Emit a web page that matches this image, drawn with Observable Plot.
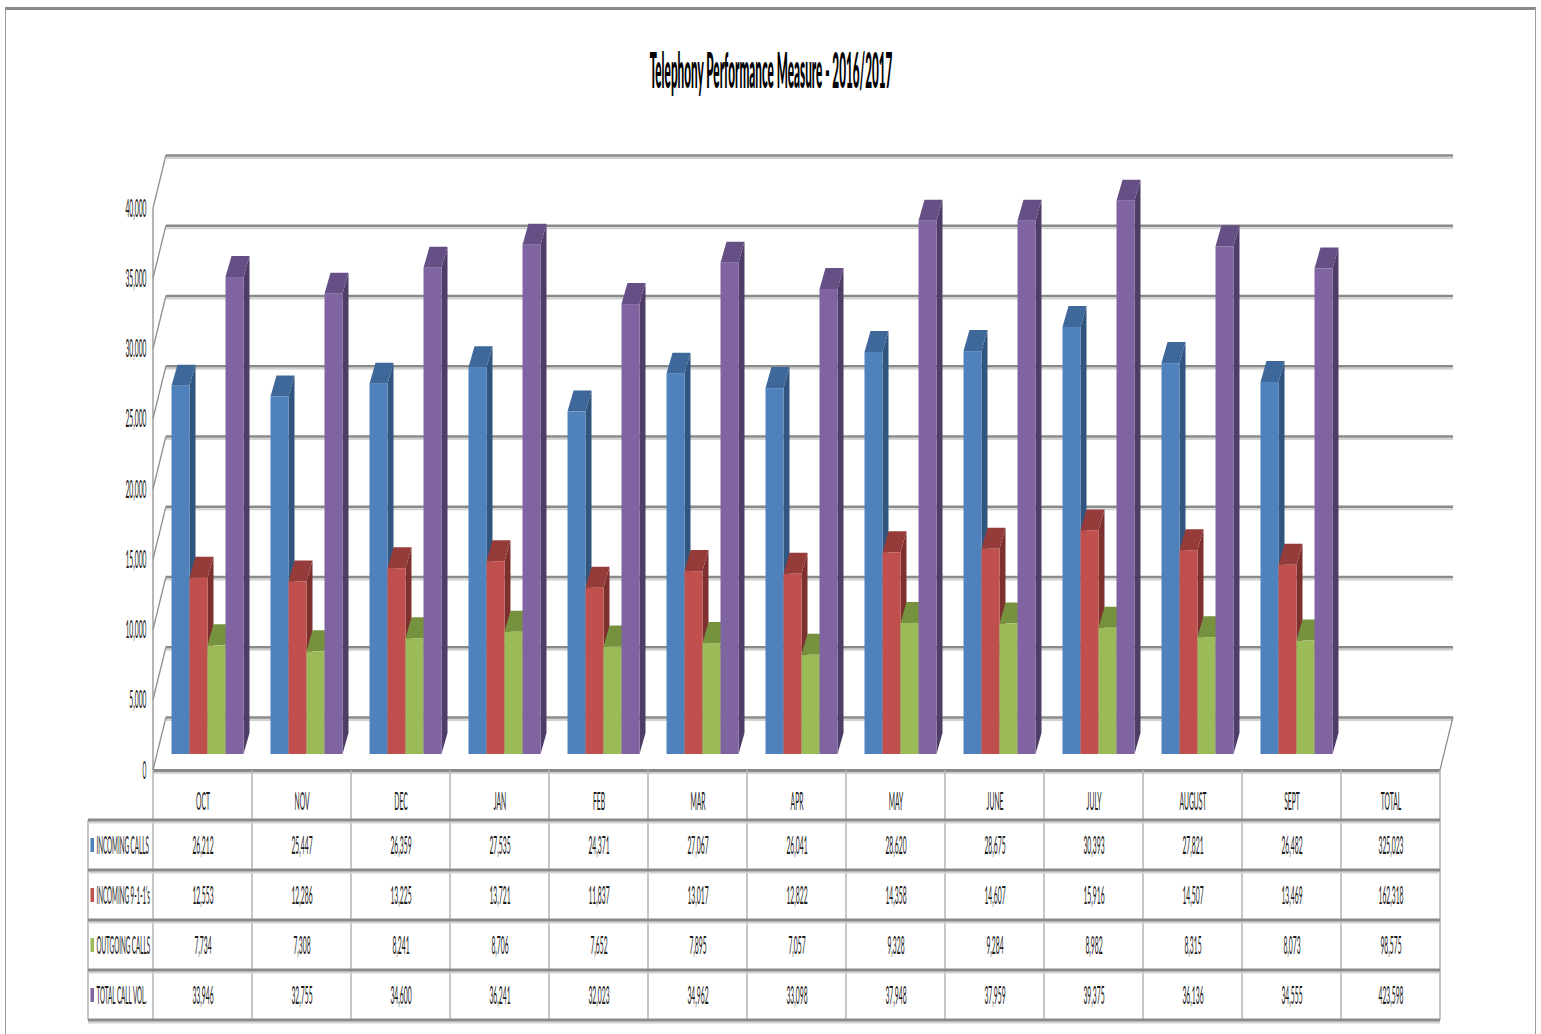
<!DOCTYPE html>
<html>
<head>
<meta charset="utf-8">
<title>Telephony Performance Measure - 2016/2017</title>
<script src="https://cdn.jsdelivr.net/npm/d3@7"></script>
<script src="https://cdn.jsdelivr.net/npm/@observablehq/plot@0.6"></script>
<style>
  html, body { margin: 0; padding: 0; background: #fff; }
  #wrap { position: relative; width: 1541px; height: 1034px; overflow: hidden; background: #fff; }
  #wrap svg { position: absolute; left: 0; top: 0; }
  #border {
    position: absolute; left: 5px; top: 7px; width: 1531px; height: 1100px; box-sizing: border-box;
    border-top: 3px solid #8a8a8a; border-left: 1px solid #9c9c9c; border-right: 1px solid #9c9c9c;
    pointer-events: none;
  }
</style>
</head>
<body>
<div id="wrap"><div id="border"></div></div>
<script>
// Monthly call volumes, October 2016 to September 2017, with the yearly totals
const months = ["OCT", "NOV", "DEC", "JAN", "FEB", "MAR", "APR", "MAY", "JUNE", "JULY", "AUGUST", "SEPT", "TOTAL"];
const incomingCalls = [26212, 25447, 26359, 27535, 24371, 27067, 26041, 28620, 28675, 30393, 27821, 26482, 325023];
const incoming911   = [12553, 12286, 13225, 13721, 11837, 13017, 12822, 14358, 14607, 15916, 14507, 13469, 162318];
const outgoingCalls = [7734, 7308, 8241, 8706, 7652, 7895, 7057, 9328, 9284, 8982, 8315, 8073, 98575];
const totalCallVol  = [33946, 32755, 34600, 36241, 32023, 34962, 33098, 37948, 37959, 39375, 36136, 34555, 423598];

const seriesNames  = ["INCOMING CALLS", "INCOMING 9-1-1's", "OUTGOING CALLS", "TOTAL CALL VOL."];
const seriesColors = ["#4f81bd", "#c0504d", "#9bbb59", "#8064a2"];
const seriesTops   = ["#3d6899", "#953c3a", "#77923f", "#654f85"];
const seriesSides  = ["#30557f", "#7d302e", "#657d35", "#4e3d68"];

const yTicks = [0, 5000, 10000, 15000, 20000, 25000, 30000, 35000, 40000];
const title = "Telephony Performance Measure - 2016/2017";

const seriesValues = [incomingCalls, incoming911, outgoingCalls, totalCallVol];

// One row per month and series; the TOTAL column is shown in the table only
const rows = months.flatMap((month, i) => seriesValues.map((values, s) => ({month, s, value: values[i]})));
const barRows = rows.filter(d => d.month !== "TOTAL");

// Layout
const W = 1541, H = 1034;
const mL = 153, mR = 101, mT = 208, mB = 264;
const bw = (W - mL - mR) / months.length;
const barW = 18;
const groupInset = (bw - barW * seriesNames.length) / 2;
const plane = {dx: 5, dy: -16};   // front face of the columns, behind the floor edge
const depth = {dx: 6, dy: -21};   // depth of each column
const wall = {dx: 13, dy: -53};   // back wall, full depth of the floor
const rowH = 50;
const labelColW = 65;
const gridDark = "#8a8a8a", gridLight = "#d2d2d2", cellLine = "#b3b3b3", wallLine = "#8f8f8f";
const fmt = d3.format(",");

// Side and top faces of each column, painted left to right
function columnFaces(index, {x, y}) {
  const g = d3.create("svg:g");
  for (const d of barRows) {
    const xl = x(d.month) + groupInset + d.s * barW + plane.dx;
    const xr = xl + barW;
    const yb = y(0) + plane.dy;
    const yt = y(d.value) + plane.dy;
    g.append("path")
      .attr("d", `M${xr},${yb}L${xr + depth.dx},${yb + depth.dy}L${xr + depth.dx},${yt + depth.dy}L${xr},${yt}Z`)
      .attr("fill", seriesSides[d.s]);
    g.append("path")
      .attr("d", `M${xl},${yt}L${xr},${yt}L${xr + depth.dx},${yt + depth.dy}L${xl + depth.dx},${yt + depth.dy}Z`)
      .attr("fill", seriesTops[d.s]);
  }
  return g.node();
}

// Left wall edges and the right edge of the floor
function wallEdges(index, {x, y}, values, dims) {
  const g = d3.create("svg:g").attr("fill", "none").attr("stroke", wallLine).attr("stroke-width", 1.3);
  const x0 = dims.marginLeft, x1 = dims.width - dims.marginRight;
  g.append("line").attr("x1", x0).attr("x2", x0).attr("y1", y(0)).attr("y2", y(yTicks[yTicks.length - 1]));
  for (const v of yTicks) {
    g.append("line").attr("x1", x0).attr("y1", y(v)).attr("x2", x0 + wall.dx).attr("y2", y(v) + wall.dy);
  }
  g.append("line").attr("x1", x1).attr("y1", y(0)).attr("x2", x1 + wall.dx).attr("y2", y(0) + wall.dy);
  return g.node();
}

// Grid of the data table under the floor
function tableGrid(index, {x, y}, values, dims) {
  const g = d3.create("svg:g").attr("fill", "none");
  const top = y(0);
  const x0 = dims.marginLeft, x1 = dims.width - dims.marginRight;
  const xLab = x0 - labelColW;
  const bottom = top + rowH * (seriesNames.length + 1);
  const v = g.append("g").attr("stroke", cellLine).attr("stroke-width", 1.5);
  for (const m of months) v.append("line").attr("x1", x(m)).attr("x2", x(m)).attr("y1", top).attr("y2", bottom);
  v.append("line").attr("x1", x1).attr("x2", x1).attr("y1", top).attr("y2", bottom);
  v.append("line").attr("x1", xLab).attr("x2", xLab).attr("y1", top + rowH).attr("y2", bottom);
  for (let r = 1; r <= seriesNames.length + 1; r++) {
    const yy = top + r * rowH;
    g.append("line").attr("x1", xLab).attr("x2", x1).attr("y1", yy + 2.5).attr("y2", yy + 2.5)
      .attr("stroke", gridLight).attr("stroke-width", 2);
    g.append("line").attr("x1", xLab).attr("x2", x1).attr("y1", yy).attr("y2", yy)
      .attr("stroke", gridDark).attr("stroke-width", 3);
  }
  seriesColors.forEach((c, s) => {
    g.append("rect")
      .attr("x", xLab + 2.5).attr("y", top + rowH * (s + 1.5) - 7)
      .attr("width", 3.5).attr("height", 14).attr("fill", c);
  });
  return g.node();
}

const textStyle = {fontSize: 25, fill: "#1a1a1a", lineAnchor: "middle"};

const chart = Plot.plot({
  width: W,
  height: H,
  marginLeft: mL,
  marginRight: mR,
  marginTop: mT,
  marginBottom: mB,
  x: {domain: months, padding: 0, axis: null},
  y: {domain: [0, 40000], axis: null},
  style: {fontFamily: "Lato, 'Open Sans', sans-serif", background: "transparent", overflow: "visible"},
  marks: [
    // back wall gridlines
    Plot.ruleY(yTicks, {dx: wall.dx, dy: wall.dy + 2.5, stroke: gridLight, strokeWidth: 2}),
    Plot.ruleY(yTicks, {dx: wall.dx, dy: wall.dy, stroke: gridDark, strokeWidth: 2.5}),
    wallEdges,
    // floor front edge, also the top of the table
    Plot.ruleY([0], {dy: 2.5, stroke: gridLight, strokeWidth: 2}),
    Plot.ruleY([0], {stroke: gridDark, strokeWidth: 3}),
    tableGrid,
    // columns
    columnFaces,
    ...seriesNames.map((name, s) => Plot.barY(barRows.filter(d => d.s === s), {
      x: "month", y: "value", fill: seriesColors[s],
      insetLeft: groupInset + s * barW, insetRight: bw - groupInset - (s + 1) * barW,
      dx: plane.dx, dy: plane.dy
    })),
    // value axis labels
    Plot.text(yTicks, {y: d => d, text: d => fmt(d), frameAnchor: "left", dx: -7, textAnchor: "end", ...textStyle}),
    // table header and rows
    Plot.text(months, {x: d => d, text: d => d, frameAnchor: "bottom", dy: rowH * 0.62, ...textStyle}),
    ...seriesNames.map((name, s) => Plot.text(rows.filter(d => d.s === s), {
      x: "month", text: d => fmt(d.value), frameAnchor: "bottom", dy: rowH * (s + 1.5), ...textStyle
    })),
    ...seriesNames.map((name, s) => Plot.text([name], {
      text: d => d, frameAnchor: "bottom-left", dx: 8 - labelColW, dy: rowH * (s + 1.5), textAnchor: "start", ...textStyle
    })),
    // title
    Plot.text([title], {text: d => d, frameAnchor: "top", lineAnchor: "middle",
      dx: W / 2 - (mL + (W - mR)) / 2, dy: -137,
      fontSize: 50, fontWeight: 900, fill: "#000"})
  ]
});

document.getElementById("wrap").prepend(chart);

// Narrow, tall lettering: squeeze every label horizontally about its anchor
chart.querySelectorAll("text").forEach(t => {
  const k = t.closest("[font-weight]") ? 0.235
    : t.closest("[text-anchor='start']") ? 0.25
    : 0.27;
  const tr = t.getAttribute("transform") || "";
  const tx = parseFloat(t.getAttribute("x")) || 0;
  t.removeAttribute("x");
  t.setAttribute("transform", `${tr} translate(${tx},0) scale(${k},1)`);
});
</script>
</body>
</html>
